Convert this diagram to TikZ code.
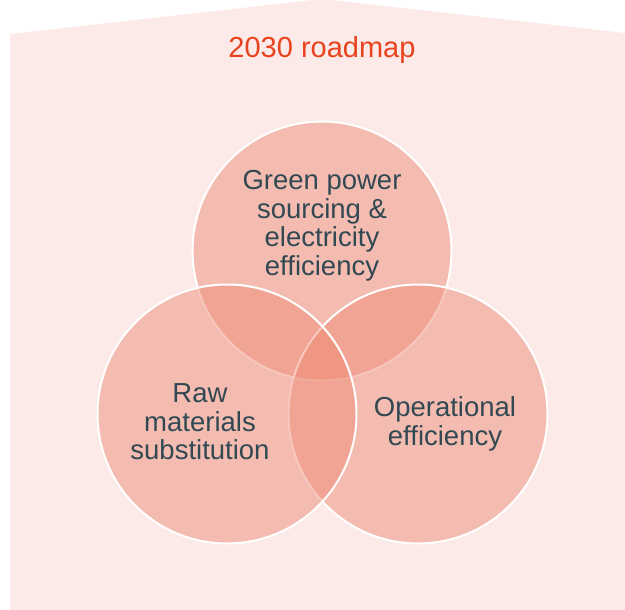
\documentclass[tikz,border=0pt]{standalone}
\usepackage{fontspec}
\setmainfont{Liberation Sans}
\usepackage{xcolor}
\usepackage{tikz}
\usetikzlibrary{positioning}

\definecolor{pagebg}{RGB}{251,234,231}
\definecolor{petal}{RGB}{238,138,115}
\definecolor{titlered}{RGB}{232,67,30}
\definecolor{slate}{RGB}{50,72,82}

\begin{document}
\begin{tikzpicture}[
    x=1pt, y=-1pt,
    ring/.style={circle, draw=white, line width=2pt, fill=petal,
                 fill opacity=0.47, draw opacity=1, minimum size=259pt,
                 inner sep=0pt},
    lbl/.style={align=center, text=slate, font=\fontsize{27.5}{28.5}\selectfont},
    heading/.style={text=titlered, font=\fontsize{29}{30}\selectfont}
]
\useasboundingbox (0,0) rectangle (625,610);
\clip (0,0) rectangle (625,610);
% page shape
\fill[pagebg] (10,34) -- (322,-1) -- (634,34) -- (634,612) -- (10,612) -- cycle;

\node[heading, anchor=base] (title) at (322,58) {2030 roadmap};

% three petals
\node[ring] (green) at (322,251) {};
\node[ring] (oper)  at (418,414) {};
\node[ring] (raw)   at (227,414) {};

\node[lbl] (greentxt) at (322,226) {Green power\\sourcing \&\\electricity\\efficiency};
\node[lbl] (rawtxt)   at (200,422) {Raw\\materials\\substitution};
\node[lbl] (opertxt)  at (445,424) {Operational\\efficiency};
\end{tikzpicture}
\end{document}
